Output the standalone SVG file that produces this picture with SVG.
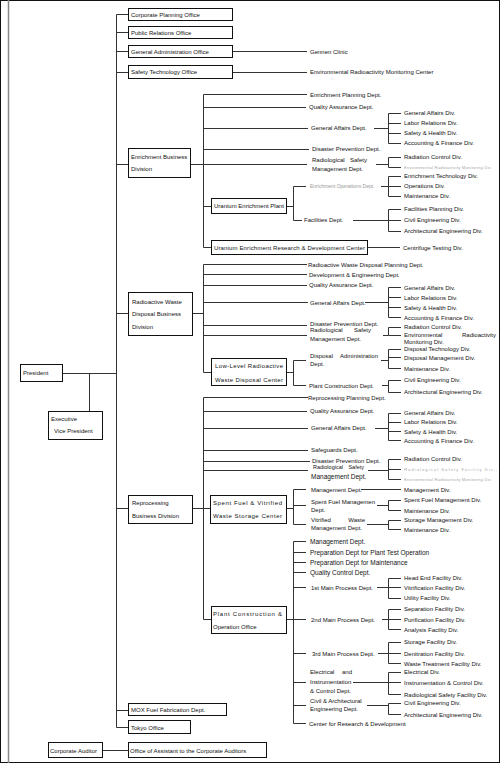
<svg xmlns="http://www.w3.org/2000/svg" width="500" height="763" viewBox="0 0 500 763">
<style>
text{font-family:"Liberation Sans",Arial,sans-serif;font-size:6px;fill:#111;dominant-baseline:central}
.b{fill:#fff;stroke:#111;stroke-width:1}
.l{fill:none;stroke:#333;stroke-width:1}
.g{fill:#999;font-size:5px}
.s{fill:#aaa;font-size:4.2px}
.m{font-size:6.5px}
.e{text-anchor:end}
</style>
<rect x="0.5" y="0.5" width="499" height="762" fill="#fff" stroke="#111"/>
<line x1="8.5" y1="0" x2="8.5" y2="763" stroke="#888" stroke-width="1.5"/>
<g id="connectors" class="l">
<path d="M116.5 14.5V727.5M116.5 14.5H128.5M116.5 32.5H128.5M116.5 51.5H128.5M116.5 72.5H128.5M116.5 164.5H128.5M116.5 313.5H128.5M116.5 508.5H128.5M116.5 710.5H128.5M116.5 727.5H128.5"/>
<path d="M62.5 373.5H116.5M89.5 373.5V411.5M102.5 750.5H128.5"/>
<path d="M232.5 51.5H307M232.5 72.5H307"/>
<path d="M203.5 94.5V247.5M203.5 94.5H307M203.5 107.5H306M203.5 128.5H308M203.5 149.5H309M190.5 164.5H307M203.5 206.5H211.5M203.5 247.5H211.5"/>
<path d="M374 128.5H388.5M388.5 113.5V143.5M388.5 113.5H401M388.5 123.5H401M388.5 133.5H401M388.5 143.5H401"/>
<path d="M376 164.5H388.5M388.5 157.5V167.5M388.5 157.5H401M388.5 167.5H401"/>
<path d="M286.5 206.5H293.5M293.5 186.5V220.5M293.5 186.5H306M293.5 220.5H302"/>
<path d="M381 186.5H388.5M388.5 176.5V196.5M388.5 176.5H401M388.5 186.5H401M388.5 196.5H401"/>
<path d="M353 220.5H388.5M388.5 209.5V231.5M388.5 209.5H401M388.5 220.5H401M388.5 231.5H401"/>
<path d="M367.5 247.5H400"/>
<path d="M203.5 264.5V372.5M203.5 264.5H307M203.5 274.5H307M203.5 285.5H307M203.5 302.5H308M203.5 325.5H307M203.5 335.5H307M192.5 313.5H203.5M203.5 372.5H211.5"/>
<path d="M365 302.5H388.5M388.5 287.5V317.5M388.5 287.5H401M388.5 297.5H401M388.5 307.5H401M388.5 317.5H401"/>
<path d="M383 335.5H388.5M388.5 327.5V335.5M388.5 327.5H401M388.5 335.5H401"/>
<path d="M286.5 372.5H293.5M293.5 360.5V385.5M293.5 360.5H306M293.5 385.5H306"/>
<path d="M381 360.5H388.5M388.5 349.5V368.5M388.5 349.5H401M388.5 357.5H401M388.5 368.5H401"/>
<path d="M382 385.5H388.5M388.5 380.5V392.5M388.5 380.5H401M388.5 392.5H401"/>
<path d="M203.5 397.5V619.5M203.5 397.5H308M203.5 411.5H307M203.5 428.5H308M203.5 450.5H308M203.5 461.5H310M203.5 470.5H308M192.5 508.5H210.5M203.5 619.5H211.5"/>
<path d="M375 428.5H388.5M388.5 413.5V440.5M388.5 413.5H401M388.5 422.5H401M388.5 431.5H401M388.5 440.5H401"/>
<path d="M368 470.5H388.5M388.5 459.5V479.5M388.5 459.5H401M388.5 469.5H401M388.5 479.5H401"/>
<path d="M286.5 508.5H293.5M293.5 489.5V524.5M293.5 489.5H306M293.5 505.5H306M293.5 524.5H306M361 489.5H401"/>
<path d="M377 505.5H388.5M388.5 500.5V510.5M388.5 500.5H401M388.5 510.5H401"/>
<path d="M367 524.5H388.5M388.5 520.5V529.5M388.5 520.5H401M388.5 529.5H401"/>
<path d="M286.5 619.5H293.5M293.5 541.5V723.5M293.5 541.5H306M293.5 552.5H306M293.5 562.5H306M293.5 572.5H306M293.5 587.5H306M293.5 619.5H306M293.5 653.5H306M293.5 682.5H306M293.5 705.5H306M293.5 723.5H306"/>
<path d="M377 587.5H388.5M388.5 578.5V598.5M388.5 578.5H401M388.5 587.5H401M388.5 598.5H401"/>
<path d="M382 619.5H388.5M388.5 609.5V629.5M388.5 609.5H401M388.5 619.5H401M388.5 629.5H401"/>
<path d="M378 653.5H388.5M388.5 642.5V663.5M388.5 642.5H401M388.5 653.5H401M388.5 663.5H401"/>
<path d="M353 682.5H388.5M388.5 672.5V694.5M388.5 672.5H401M388.5 682.5H401M388.5 694.5H401"/>
<path d="M367 705.5H388.5M388.5 703.5V714.5M388.5 703.5H401M388.5 714.5H401"/>
</g>
<g id="president"><rect class="b" x="20.5" y="364.5" width="42" height="17"/><text x="23" y="372.5">President</text></g>
<g id="exec-vp"><rect class="b" x="48.5" y="411.5" width="54" height="28"/><text x="51" y="419">Executive</text><text x="54" y="431">Vice President</text></g>
<g id="corp-planning"><rect class="b" x="128.5" y="8.5" width="104" height="12"/><text x="131" y="14.5">Corporate Planning Office</text></g>
<g id="public-relations"><rect class="b" x="128.5" y="26.5" width="104" height="12"/><text x="131" y="32.5">Public Relations Office</text></g>
<g id="general-admin"><rect class="b" x="128.5" y="45.5" width="104" height="12"/><text x="131" y="51.5">General Administration Office</text></g>
<g id="safety-tech"><rect class="b" x="128.5" y="65.5" width="104" height="13"/><text x="131" y="72">Safety Technology Office</text></g>
<g id="gennen-clinic"><text x="310" y="51.5">Gennen Clinic</text></g>
<g id="env-monitoring-center"><text x="310" y="72">Environmental Radioactivity Monitoring Center</text></g>
<g id="enrichment-div"><rect class="b" x="128.5" y="148.5" width="62" height="29"/><text x="131" y="156.5">Enrichment Business</text><text x="131" y="169">Division</text></g>
<g id="en-planning"><text x="310" y="94.5">Enrichment Planning Dept.</text></g>
<g id="en-qa"><text x="309" y="107">Quality Assurance Dept.</text></g>
<g id="en-ga"><text x="311" y="128">General Affairs Dept.</text></g>
<g id="en-ga-divs"><text x="404" y="113">General Affairs Div.</text><text x="404" y="123">Labor Relations Div.</text><text x="404" y="133">Safety &amp; Health Div.</text><text x="404" y="143">Accounting &amp; Finance Div.</text></g>
<g id="en-disaster"><text x="312" y="149">Disaster Prevention Dept.</text></g>
<g id="en-radsafety"><text x="312" y="160">Radiological</text><text class="e" x="367" y="160">Safety</text><text x="312" y="169">Management Dept.</text></g>
<g id="en-rs-divs"><text x="404" y="157">Radiation Control Div.</text><text class="s" x="404" y="167" textLength="88">Environmental Radioactivity Monitoring Div.</text></g>
<g id="uranium-plant"><rect class="b" x="211.5" y="198.5" width="75" height="15"/><text x="214" y="206">Uranium Enrichment Plant</text></g>
<g id="en-ops"><text class="g" x="310" y="186">Enrichment Operations Dept.</text></g>
<g id="en-ops-divs"><text x="404" y="176">Enrichment Technology Div.</text><text x="404" y="186">Operations Div.</text><text x="404" y="196">Maintenance Div.</text></g>
<g id="en-facilities"><text x="304" y="220">Facilities Dept.</text></g>
<g id="en-fac-divs"><text x="404" y="209">Facilities Planning Div.</text><text x="404" y="220">Civil Engineering Div.</text><text x="404" y="231">Architectural Engineering Div.</text></g>
<g id="ur-rnd"><rect class="b" x="211.5" y="240.5" width="156" height="14"/><text x="214" y="247.5" textLength="151">Uranium Enrichment Research &amp; Development Center</text></g>
<g id="centrifuge"><text x="403" y="247.5">Centrifuge Testing Div.</text></g>
<g id="radwaste-div"><rect class="b" x="128.5" y="292.5" width="64" height="43"/><text x="132" y="302">Radioactive Waste</text><text x="132" y="314">Disposal Business</text><text x="132" y="327">Division</text></g>
<g id="rw-planning"><text x="308" y="264.5">Radioactive Waste Disposal Planning Dept.</text></g>
<g id="rw-deveng"><text x="309" y="274.5">Development &amp; Engineering Dept.</text></g>
<g id="rw-qa"><text x="309" y="285">Quality Assurance Dept.</text></g>
<g id="rw-ga"><text x="310" y="302.5">General Affairs Dept.</text></g>
<g id="rw-ga-divs"><text x="404" y="288">General Affairs Div.</text><text x="404" y="297.5">Labor Relations Div.</text><text x="404" y="307.5">Safety &amp; Health Div.</text><text x="404" y="317.5">Accounting &amp; Finance Div.</text></g>
<g id="rw-disaster"><text x="310" y="324">Disaster Prevention Dept.</text></g>
<g id="rw-radsafety"><text x="310" y="330">Radiological</text><text class="e" x="371" y="330">Safety</text><text x="310" y="338.5">Management Dept.</text></g>
<g id="rw-rs-divs"><text x="404" y="327">Radiation Control Div.</text><text x="404" y="335">Environmental</text><text class="e" x="496" y="335">Radioactivity</text><text x="404" y="342">Monitoring Div.</text></g>
<g id="lowlevel"><rect class="b" x="211.5" y="358.5" width="75" height="27"/><text x="215" y="365.5" textLength="68">Low-Level Radioactive</text><text x="215" y="379.5" textLength="68">Waste Disposal Center</text></g>
<g id="rw-admin"><text x="310" y="356">Disposal</text><text class="e" x="378" y="356">Administration</text><text x="310" y="363.5">Dept.</text></g>
<g id="rw-admin-divs"><text x="404" y="349">Disposal Technology Div.</text><text x="404" y="357.5">Disposal Management Div.</text><text x="404" y="368.5">Maintenance Div.</text></g>
<g id="rw-plantcon"><text x="309" y="386">Plant Construction Dept.</text></g>
<g id="rw-pc-divs"><text x="404" y="380">Civil Engineering Div.</text><text x="404" y="392">Architectural Engineering Div.</text></g>
<g id="repro-div"><rect class="b" x="128.5" y="495.5" width="64" height="28"/><text x="132" y="502.5">Reprocessing</text><text x="132" y="516">Business Division</text></g>
<g id="rp-planning"><text x="308" y="397.5">Reprocessing Planning Dept.</text></g>
<g id="rp-qa"><text x="310" y="411">Quality Assurance Dept.</text></g>
<g id="rp-ga"><text x="311" y="428">General Affairs Dept.</text></g>
<g id="rp-ga-divs"><text x="404" y="413">General Affairs Div.</text><text x="404" y="422">Labor Relations Div.</text><text x="404" y="431.5">Safety &amp; Health Div.</text><text x="404" y="440.5">Accounting &amp; Finance Div.</text></g>
<g id="rp-safeguards"><text x="311" y="450">Safeguards Dept.</text></g>
<g id="rp-disaster"><text x="312" y="460.5">Disaster Prevention Dept.</text></g>
<g id="rp-radsafety"><text x="313" y="467" style="font-size:5.5px">Radiological</text><text class="e" x="364" y="467" style="font-size:5.5px">Safety</text><text class="m" x="311" y="476">Management Dept.</text></g>
<g id="rp-rs-divs"><text x="404" y="459">Radiation Control Div.</text><text class="s" x="404" y="469.5" textLength="93">Radiological Safety Facility Div.,</text><text class="s" x="404" y="479.5" textLength="88">Environmental Radioactivity Monitoring Div.</text></g>
<g id="spent-fuel-center"><rect class="b" x="210.5" y="495.5" width="76" height="28"/><text x="213" y="502.5" textLength="69">Spent Fuel &amp; Vitrified</text><text x="213" y="516" textLength="69">Waste Storage Center</text></g>
<g id="sf-mgmt"><text x="311" y="489.5">Management Dept.</text><text x="404" y="489.5">Management Div.</text></g>
<g id="sf-spent"><text x="311" y="502">Spent Fuel Managemen</text><text x="311" y="510">Dept.</text></g>
<g id="sf-spent-divs"><text x="404" y="500">Spent Fuel Management Div.</text><text x="404" y="510.5">Maintenance Div.</text></g>
<g id="sf-vitrified"><text x="311" y="520">Vitrified</text><text class="e" x="365" y="520">Waste</text><text x="311" y="528">Management Dept.</text></g>
<g id="sf-vit-divs"><text x="404" y="520">Storage Management Div.</text><text x="404" y="529.5">Maintenance Div.</text></g>
<g id="plant-con-office"><rect class="b" x="211.5" y="606.5" width="75" height="27"/><text x="213" y="614" textLength="69">Plant Construction &amp;</text><text x="213" y="627">Operation Office</text></g>
<g id="pc-mgmt"><text class="m" x="310" y="541.5">Management Dept.</text></g>
<g id="pc-prep-test"><text class="m" x="310" y="552.5">Preparation Dept for Plant Test Operation</text></g>
<g id="pc-prep-maint"><text class="m" x="310" y="562.5">Preparation Dept for Maintenance</text></g>
<g id="pc-qc"><text class="m" x="310" y="572.5">Quality Control Dept.</text></g>
<g id="pc-1st"><text x="311" y="587.5">1st Main Process Dept.</text></g>
<g id="pc-1st-divs"><text x="404" y="578">Head End Facility Div.</text><text x="404" y="587.5">Vitrification Facility Div.</text><text x="404" y="598">Utility Facility Div.</text></g>
<g id="pc-2nd"><text x="311" y="619.5">2nd Main Process Dept.</text></g>
<g id="pc-2nd-divs"><text x="404" y="609">Separation Facility Div.</text><text x="404" y="619.5">Purification Facility Div.</text><text x="404" y="629.5">Analysis Facility Div.</text></g>
<g id="pc-3rd"><text x="312" y="653.5">3rd Main Process Dept.</text></g>
<g id="pc-3rd-divs"><text x="404" y="642">Storage Facility Div.</text><text x="404" y="653.5">Denitration Facility Div.</text><text x="404" y="663.5">Waste Treatment Facility Div.</text></g>
<g id="pc-elec"><text x="310" y="672">Electrical</text><text class="e" x="352" y="672">and</text><text x="310" y="682">Instrumentation</text><text x="310" y="690.5">&amp; Control Dept.</text></g>
<g id="pc-elec-divs"><text x="404" y="672">Electrical Div.</text><text x="404" y="682.5">Instrumentation &amp; Control Div.</text><text x="404" y="694.5">Radiological Safety Facility Div.</text></g>
<g id="pc-civil"><text x="310" y="700.5">Civil &amp; Architectural</text><text x="310" y="709">Engineering Dept.</text></g>
<g id="pc-civil-divs"><text x="404" y="703">Civil Engineering Div.</text><text x="404" y="714.5">Architectural Engineering Div.</text></g>
<g id="pc-rnd"><text x="309" y="723.5">Center for Research &amp; Development</text></g>
<g id="mox"><rect class="b" x="128.5" y="703.5" width="98" height="12"/><text x="131" y="710">MOX Fuel Fabrication Dept.</text></g>
<g id="tokyo"><rect class="b" x="128.5" y="720.5" width="62" height="13"/><text x="131" y="727.5">Tokyo Office</text></g>
<g id="corp-auditor"><rect class="b" x="48.5" y="742.5" width="54" height="15"/><text x="50" y="750.5">Corporate Auditor</text></g>
<g id="office-assistant"><rect class="b" x="128.5" y="742.5" width="138" height="15"/><text x="130" y="750.5">Office of Assistant to the Corporate Auditors</text></g>
</svg>
